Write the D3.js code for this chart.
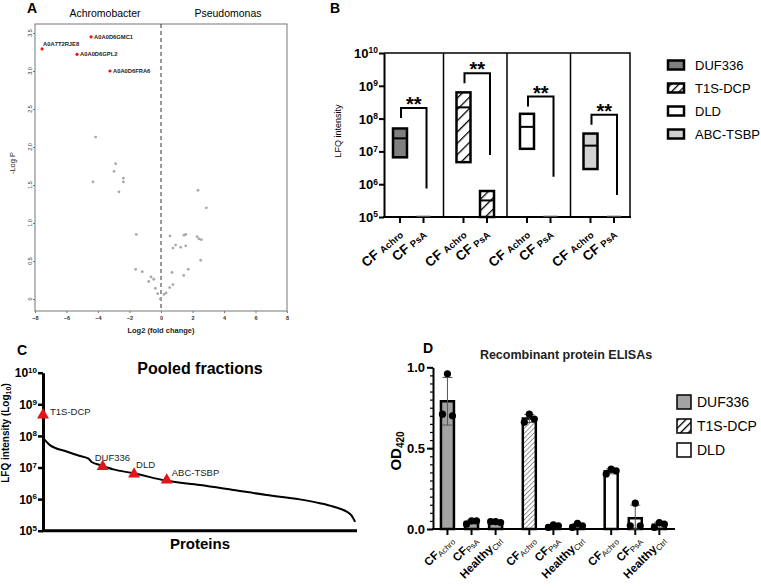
<!DOCTYPE html>
<html>
<head>
<meta charset="utf-8">
<script src="https://cdn.jsdelivr.net/npm/d3@7/dist/d3.min.js"></script>
<style>
body { margin: 0; background: #fff; }
svg { font-family: "Liberation Sans", Arial, sans-serif; }
</style>
</head>
<body>
<script>
// ---------- Panel A: volcano plot ----------
let sigNames = ["A0A7T2RJE8", "A0A0D6GMC1", "A0A0D6GPL2", "A0A0D6FRA6"];
let sigFold = [-7.55, -4.44, -5.33, -3.24];
let sigLogP = [3.29, 3.45, 3.22, 3.0];
let otherFold = [-4.15, -4.32, -2.88, -2.98, -2.39, -2.39, -2.67, -1.57, -1.61, -1.19, -0.78, -0.63,
  -0.46, -0.36, -0.21, -0.04, 0.19, 0.32, 0.55, 0.76, 0.70, 0.57, 0.76, 0.93, 1.25, 1.57, 1.46, 1.57,
  1.44, 1.73, 2.35, 2.88, 2.29, 2.41, 2.56, 2.52];
let otherLogP = [2.13, 1.54, 1.78, 1.68, 1.59, 1.54, 1.41, 0.85, 0.39, 0.36, 0.23, 0.29,
  0.26, 0.14, 0.07, 0.0, 0.06, 0.08, 0.15, 0.19, 0.35, 0.83, 0.67, 0.71, 0.68, 0.70, 0.84, 0.85,
  0.31, 0.39, 1.43, 1.20, 0.82, 0.79, 0.78, 0.51];
let foldTicks = [-8, -6, -4, -2, 0, 2, 4, 6, 8];
let logPTicks = [0, 0.5, 1, 1.5, 2, 2.5, 3, 3.5];

// ---------- Panel B: LFQ floating bars ----------
let proteinsB = ["DUF336", "T1S-DCP", "DLD", "ABC-TSBP"];
let cohortsB = ["Achro", "PsA"];
let achroMin = [6.6e6, 4.7e6, 1.2e7, 2.9e6];
let achroMed = [2.5e7, 2.2e8, 5.6e7, 1.5e7];
let achroMax = [5.0e7, 6.3e8, 1.4e8, 3.5e7];
let psaMin = [1e5, 1e5, 1e5, 1e5];
let psaMed = [1e5, 3.2e5, 1e5, 1e5];
let psaMax = [1e5, 6.2e5, 1e5, 1e5];
let bracketTop = [2.1e8, 2.4e9, 4.7e8, 1.3e8];
let bracketEnd = [7.4e5, 7.8e6, 1.7e6, 4.7e5];
let sigStars = ["**", "**", "**", "**"];
let lfqTicks = [1e5, 1e6, 1e7, 1e8, 1e9, 1e10];

// ---------- Panel C: ranked abundance ----------
let rankC = [0, 1, 3, 6, 22, 75, 118, 145, 155, 182, 224, 288, 394, 500, 606, 712, 818, 882, 924, 967, 983, 994];
let lfqC = [2.5e8, 1.3e8, 8e7, 7.4e7, 5.1e7, 3.2e7, 2.3e7, 1.9e7, 1.5e7, 1.2e7, 8.7e6, 6.6e6, 3.8e6,
  2.8e6, 1.95e6, 1.35e6, 9.8e5, 7.4e5, 5.8e5, 4e5, 3e5, 1.9e5];
let markerNames = ["T1S-DCP", "DUF336", "DLD", "ABC-TSBP"];
let markerRank = [0, 190, 290, 394];
let markerLfq = [4.6e8, 1.07e7, 6.2e6, 4.0e6];

// ---------- Panel D: ELISA ----------
let proteinsD = ["DUF336", "T1S-DCP", "DLD"];
let cohortsD = [["CF", "Achro"], ["CF", "PsA"], ["Healthy", "Ctrl"]];
let odDUF336 = [[0.71, 0.96, 0.70], [0.03, 0.05, 0.05], [0.045, 0.045, 0.04]];
let odT1SDCP = [[0.66, 0.71, 0.68], [0.01, 0.025, 0.02], [0.01, 0.035, 0.02]];
let odDLD = [[0.34, 0.37, 0.36], [0.02, 0.16, 0.02], [0.01, 0.04, 0.03]];
let odTicks = [0, 0.5, 1.0];

let svg = d3.select("body").append("svg").attr("width", 761).attr("height", 588);

// patterns
let defs = svg.append("defs");
function hatch(id, size, width, color) {
  defs.append("pattern").attr("id", id).attr("width", size).attr("height", size)
    .attr("patternUnits", "userSpaceOnUse").attr("patternTransform", "rotate(45)")
    .call(p => p.append("rect").attr("width", size).attr("height", size).attr("fill", "#fff"))
    .append("line").attr("x1", 0).attr("y1", 0).attr("x2", 0).attr("y2", size)
    .attr("stroke", color).attr("stroke-width", width);
}
hatch("hatchB", 8, 2.6, "#000");
hatch("hatchD", 3.4, 1, "#333");
hatch("hatchLeg", 5.5, 2.6, "#000");

let fillB = ["#7f7f7f", "url(#hatchB)", "#fff", "#d2d2d2"];
let fillD = ["#a3a3a3", "url(#hatchD)", "#fff"];

function panelLetter(t, x, y) {
  svg.append("text").attr("x", x).attr("y", y).attr("font-size", 14).attr("font-weight", "bold").text(t);
}

// rotated text: a group carries the transform, the text sits at its origin
function rotText(parent, x, y, angle, anchor) {
  return parent.append("g").attr("transform", `translate(${x.toFixed(1)},${y.toFixed(1)}) rotate(${angle})`)
    .append("text").attr("x", 0).attr("y", 0).attr("text-anchor", anchor);
}

// ================= Panel A =================
let xA = d3.scaleLinear().domain([-8, 8]).range([35, 287]);
let yA = d3.scaleLinear().domain([0, 3.5]).range([299, 33]);
let gA = svg.append("g");
panelLetter("A", 27, 13);
gA.append("text").attr("x", 105).attr("y", 17).attr("text-anchor", "middle").attr("font-size", 10.5).text("Achromobacter");
gA.append("text").attr("x", 228).attr("y", 17).attr("text-anchor", "middle").attr("font-size", 10.5).text("Pseudomonas");
gA.append("rect").attr("x", 35).attr("y", 24).attr("width", 252).attr("height", 287)
  .attr("fill", "none").attr("stroke", "#777").attr("stroke-width", 1);
gA.append("line").attr("x1", xA(0)).attr("x2", xA(0)).attr("y1", 24).attr("y2", 311)
  .attr("stroke", "#333").attr("stroke-dasharray", "4,3");

let axA = gA.append("g").attr("transform", "translate(35,0)")
  .call(d3.axisLeft(yA).tickValues(logPTicks).tickSize(2).tickSizeOuter(0).tickFormat(""));
axA.select(".domain").remove();
axA.selectAll("line").attr("stroke", "#777");
logPTicks.forEach(d => {
  rotText(gA, 32, yA(d), -90, "middle").attr("font-size", 5.5).attr("fill", "#333")
    .text(d === 0 ? "0" : d.toFixed(1));
});

let axAb = gA.append("g").attr("transform", "translate(0,311)")
  .call(d3.axisBottom(xA).tickValues(foldTicks).tickSize(2).tickSizeOuter(0));
axAb.select(".domain").remove();
axAb.selectAll("line").attr("stroke", "#777");
axAb.selectAll("text").attr("y", 5).attr("font-size", 5.5).attr("font-weight", "bold").attr("fill", "#333");
gA.append("text").attr("x", xA(0)).attr("y", 333).attr("text-anchor", "middle")
  .attr("font-size", 7.5).attr("font-weight", "bold").attr("fill", "#222").text("Log2 (fold change)");
rotText(gA, 15, 163, -90, "middle").attr("font-size", 7.5).attr("fill", "#222").text("-Log P");

gA.selectAll(".other").data(otherFold).enter().append("circle")
  .attr("cx", d => xA(d)).attr("cy", (d, i) => yA(otherLogP[i])).attr("r", 1.4).attr("fill", "#a8a8a8");
gA.selectAll(".sig").data(sigFold).enter().append("circle")
  .attr("cx", d => xA(d)).attr("cy", (d, i) => yA(sigLogP[i])).attr("r", 1.6).attr("fill", "#e8141b");
gA.selectAll(".siglab").data(sigNames).enter().append("text")
  .attr("x", (d, i) => xA(sigFold[i]) + (i === 0 ? 1 : 3))
  .attr("y", (d, i) => yA(sigLogP[i]) + (i === 0 ? -3 : 2.2))
  .attr("font-size", 5.8).attr("font-weight", "bold").attr("fill", "#222").text(d => d);

// ================= Panel B =================
let yB = d3.scaleLog().domain([1e5, 1e10]).range([217, 53]);
let xB = d3.scaleLinear().domain([-0.68, 9.78]).range([384, 630]);
let posB = (g, i) => xB(g * 2.7 + i);
let gB = svg.append("g");
panelLetter("B", 330, 13);

rotText(gB, 341, 131, -90, "middle").attr("font-size", 9).text("LFQ intensity");

let axB = gB.append("g").attr("transform", "translate(384,0)")
  .call(d3.axisLeft(yB).tickValues(lfqTicks).tickSize(5).tickSizeOuter(0));
axB.select(".domain").attr("stroke-width", 2);
axB.selectAll("line").attr("stroke-width", 2);
axB.selectAll(".tick text").each(function(d) {
  let t = d3.select(this).text(null).attr("x", -6).attr("dy", "0.35em").attr("font-size", 13).attr("font-weight", "bold");
  t.append("tspan").text("10");
  t.append("tspan").attr("dy", "-0.55em").attr("font-size", 8.5).text(Math.round(Math.log10(d)));
});

// frame and group dividers
gB.append("path").attr("d", `M384,${yB(1e10)}H630V217`).attr("fill", "none").attr("stroke", "#000").attr("stroke-width", 1.5);
[1, 2, 3].forEach(g => {
  gB.append("line").attr("x1", xB(g * 2.7 - 0.85)).attr("x2", xB(g * 2.7 - 0.85))
    .attr("y1", yB(1e10)).attr("y2", 217).attr("stroke", "#000").attr("stroke-width", 1.5);
});
gB.append("line").attr("x1", 383).attr("x2", 631).attr("y1", 217).attr("y2", 217).attr("stroke", "#000").attr("stroke-width", 2);

proteinsB.forEach((p, g) => {
  let boxes = [[achroMin[g], achroMed[g], achroMax[g]], [psaMin[g], psaMed[g], psaMax[g]]];
  boxes.forEach((b, i) => {
    let cx = posB(g, i);
    gB.append("line").attr("x1", cx).attr("x2", cx).attr("y1", 217).attr("y2", 223)
      .attr("stroke", "#000").attr("stroke-width", 2);
    if (b[2] > b[0]) {
      gB.append("rect").attr("x", cx - 7).attr("width", 14).attr("y", yB(b[2])).attr("height", yB(b[0]) - yB(b[2]))
        .attr("fill", fillB[g]).attr("stroke", "#000").attr("stroke-width", 2.5);
      gB.append("line").attr("x1", cx - 7).attr("x2", cx + 7).attr("y1", yB(b[1])).attr("y2", yB(b[1]))
        .attr("stroke", "#000").attr("stroke-width", 2);
    } else {
      gB.append("line").attr("x1", cx - 7).attr("x2", cx + 7).attr("y1", yB(b[0]) - 1).attr("y2", yB(b[0]) - 1)
        .attr("stroke", "#999").attr("stroke-width", 1);
    }
    let lab = rotText(gB, cx + 4, 236, -40, "end").attr("font-weight", "bold");
    lab.append("tspan").attr("font-size", 13.5).text("CF ");
    lab.append("tspan").attr("font-size", 9.5).text(cohortsB[i]);
  });
  let l = posB(g, 0) + 1, r = posB(g, 1) + 3, top = yB(bracketTop[g]);
  gB.append("path").attr("d", `M${l},${top + 10}V${top}H${r}V${yB(bracketEnd[g])}`)
    .attr("fill", "none").attr("stroke", "#000").attr("stroke-width", 2);
  gB.append("text").attr("x", (l + r) / 2).attr("y", top + 3).attr("text-anchor", "middle")
    .attr("font-size", 20).attr("font-weight", "bold").text(sigStars[g]);
});

// legend B
proteinsB.forEach((p, i) => {
  let cy = 65 + i * 23;
  gB.append("rect").attr("x", 668).attr("y", cy - 4.5).attr("width", 16).attr("height", 9)
    .attr("fill", i === 1 ? "url(#hatchLeg)" : fillB[i]).attr("stroke", "#000").attr("stroke-width", 2.5);
  gB.append("text").attr("x", 695).attr("y", cy + 4.5).attr("font-size", 13).text(p);
});

// ================= Panel C =================
let yC = d3.scaleLog().domain([1e5, 1e10]).range([530.7, 372.7]);
let xC = d3.scaleLinear().domain([0, 1000]).range([43, 357]);
let gC = svg.append("g");
panelLetter("C", 17, 355);
gC.append("text").attr("x", 200).attr("y", 374).attr("text-anchor", "middle")
  .attr("font-size", 16).attr("font-weight", "bold").text("Pooled fractions");
gC.append("text").attr("x", 200).attr("y", 549).attr("text-anchor", "middle")
  .attr("font-size", 15).attr("font-weight", "bold").text("Proteins");
let yLabC = rotText(gC, 9, 433, -90, "middle").attr("font-size", 10).attr("font-weight", "bold");
yLabC.append("tspan").text("LFQ intensity (Log");
yLabC.append("tspan").attr("font-size", 7).attr("dy", 2).text("10");
yLabC.append("tspan").attr("dy", -2).text(")");

let axC = gC.append("g").attr("transform", "translate(43,0)")
  .call(d3.axisLeft(yC).tickValues(lfqTicks).tickSize(5).tickSizeOuter(0));
axC.select(".domain").attr("stroke-width", 3);
axC.selectAll("line").attr("stroke-width", 2.5);
axC.selectAll(".tick text").each(function(d) {
  let t = d3.select(this).text(null).attr("x", -6).attr("dy", "0.35em").attr("font-size", 12).attr("font-weight", "bold");
  t.append("tspan").text("10");
  t.append("tspan").attr("dy", "-0.55em").attr("font-size", 8).text(Math.round(Math.log10(d)));
});
gC.append("line").attr("x1", 42).attr("x2", 357).attr("y1", yC(1e5)).attr("y2", yC(1e5))
  .attr("stroke", "#000").attr("stroke-width", 3);

let lineC = d3.line().x((d, i) => xC(rankC[i])).y(d => yC(d)).curve(d3.curveMonotoneX);
gC.append("path").datum(lfqC).attr("d", lineC).attr("fill", "none").attr("stroke", "#000").attr("stroke-width", 2);

let labelOff = {"T1S-DCP": [7, 0], "DUF336": [-8, -6], "DLD": [2, -6], "ABC-TSBP": [5, -4.5]};
markerNames.forEach((m, i) => {
  let x = xC(markerRank[i]), y = yC(markerLfq[i]);
  gC.append("path").attr("d", d3.symbol(d3.symbolTriangle).size(62)).attr("transform", `translate(${x},${y})`)
    .attr("fill", "#e3141b");
  gC.append("text").attr("x", x + labelOff[m][0]).attr("y", y + labelOff[m][1])
    .attr("font-size", 9.5).attr("fill", "#222").text(m);
});

// ================= Panel D =================
let yD = d3.scaleLinear().domain([0, 1]).range([529, 367.3]);
let xD = d3.scaleLinear().domain([-0.6, 9.45]).range([433, 675]);
let posD = (g, i) => xD(g * 3.4 + i);
let gD = svg.append("g");
panelLetter("D", 423, 353);
gD.append("text").attr("x", 566).attr("y", 359).attr("text-anchor", "middle")
  .attr("font-size", 12.5).attr("font-weight", "bold").attr("fill", "#222").text("Recombinant protein ELISAs");
let yLabD = rotText(gD, 401, 451, -90, "middle").attr("font-size", 15).attr("font-weight", "bold");
yLabD.append("tspan").text("OD");
yLabD.append("tspan").attr("font-size", 10).attr("dy", 3).text("420");

let axD = gD.append("g").attr("transform", "translate(433,0)")
  .call(d3.axisLeft(yD).tickValues(d3.range(0, 1.0001, 0.05)).tickSize(3).tickSizeOuter(0).tickFormat(""));
axD.select(".domain").attr("stroke-width", 2);
axD.selectAll("line").attr("stroke-width", 1.2);
gD.append("g").attr("transform", "translate(433,0)")
  .call(d3.axisLeft(yD).tickValues(odTicks).tickSize(6).tickSizeOuter(0).tickFormat(d3.format(".1f")))
  .call(a => a.select(".domain").remove())
  .call(a => a.selectAll("line").attr("stroke-width", 2))
  .call(a => a.selectAll("text").attr("x", -8).attr("font-size", 13).attr("font-weight", "bold"));
gD.append("line").attr("x1", 432).attr("x2", 675).attr("y1", yD(0)).attr("y2", yD(0))
  .attr("stroke", "#000").attr("stroke-width", 2);

[odDUF336, odT1SDCP, odDLD].forEach((set, g) => {
  set.forEach((vals, i) => {
    let cx = posD(g, i);
    let m = d3.mean(vals), sd = d3.deviation(vals);
    gD.append("line").attr("x1", cx).attr("x2", cx).attr("y1", yD(0)).attr("y2", yD(0) + 6)
      .attr("stroke", "#000").attr("stroke-width", 2);
    gD.append("rect").attr("x", cx - 6.5).attr("width", 13).attr("y", yD(m)).attr("height", yD(0) - yD(m))
      .attr("fill", fillD[g]).attr("stroke", "#000").attr("stroke-width", 2.5);
    let lo = Math.max(0, m - sd), hi = m + sd;
    gD.append("path").attr("d", `M${cx},${yD(lo)}V${yD(hi)}M${cx - 5},${yD(hi)}H${cx + 5}M${cx - 5},${yD(lo)}H${cx + 5}`)
      .attr("stroke", "#555").attr("stroke-width", 1).attr("fill", "none");
    vals.forEach((v, k) => {
      gD.append("circle").attr("cx", cx + (k - 1) * 5).attr("cy", yD(v)).attr("r", 3.6).attr("fill", "#000");
    });
    let lab = rotText(gD, cx + 7, 541, -45, "end");
    lab.append("tspan").attr("font-size", 11.5).attr("font-weight", "bold").text(cohortsD[i][0]);
    lab.append("tspan").attr("font-size", 8).attr("dy", 2).text(cohortsD[i][1]);
  });
});

// legend D
proteinsD.forEach((p, i) => {
  let cy = 402 + i * 24;
  gD.append("rect").attr("x", 677).attr("y", cy - 7).attr("width", 14).attr("height", 14)
    .attr("fill", i === 1 ? "url(#hatchLeg)" : fillD[i]).attr("stroke", "#000").attr("stroke-width", 1.5);
  gD.append("text").attr("x", 697).attr("y", cy + 5).attr("font-size", 14).text(p);
});
</script>
</body>
</html>
